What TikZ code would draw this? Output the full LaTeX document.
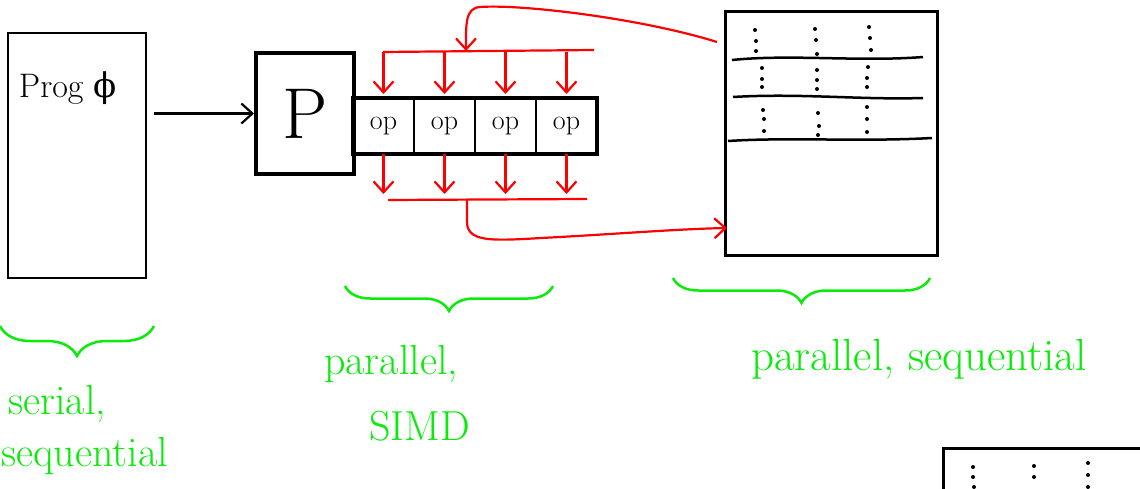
\documentclass[tikz,border=0pt]{standalone}
\usepackage{fontspec}
\newfontfamily\greekfont{DejaVu Serif}
\usetikzlibrary{arrows.meta,positioning,decorations.pathreplacing}
\definecolor{inkred}{RGB}{255,0,0}
\definecolor{inkgreen}{RGB}{10,235,10}

\begin{document}
\begin{tikzpicture}[x=1pt,y=-1pt,line width=2.5pt,
  box/.style={draw,line width=2.5pt,inner sep=0pt},
  opcell/.style={draw,line width=1.8pt,outer sep=0pt,inner sep=0pt,
    minimum width=61pt,minimum height=56pt,font=\fontsize{28}{32}\selectfont},
  sig/.style={->,draw=inkred,line width=2.2pt,>={Straight Barb[length=11pt,width=20pt]}},
  bus/.style={draw=inkred,line width=2.2pt},
  hand/.style={text=inkgreen,inner sep=0pt,font=\fontsize{42}{48}\selectfont},
  grp/.style={draw=inkgreen,line width=2.5pt,decorate,decoration={brace,mirror,amplitude=#1}}]
\useasboundingbox (0,0) rectangle (1140,489);
% ---- serial program ----
\node[box,minimum width=138pt,minimum height=245pt] (prog) at (77,155.5) {};
\node[font=\fontsize{34}{38}\selectfont] (progname) at (68,88) {Prog {\greekfont ϕ}};
% ---- processor and its op strip ----
\node[box,line width=4pt,minimum width=98pt,minimum height=121pt,
  font=\fontsize{72}{72}\selectfont] (proc) at (305,113.5) {P};
\node[opcell,anchor=west] (op1) at (353,126) {op};
\node[opcell,right=0pt of op1] (op2) {op};
\node[opcell,right=0pt of op2] (op3) {op};
\node[opcell,right=0pt of op3] (op4) {op};
\draw[line width=4pt] (op1.north west) rectangle (op4.south east);
\draw[->,line width=2.2pt,>={Straight Barb[length=11pt,width=20pt]},shorten <=7pt]
  (prog.east |- proc.west) -- (proc.west);
% ---- memory ----
\node[box,line width=3pt,minimum width=212pt,minimum height=243pt] (mem) at (831,133.5) {};
\draw (732,60) .. controls (790,54) and (860,62) .. (923,57);
\draw (733,97) .. controls (800,93) and (860,100) .. (923,98);
\draw (728,141) .. controls (790,137) and (860,142) .. (932,138);
\fill (755,30) circle (2pt) (756,41) circle (2pt) (756,51) circle (2pt);
\fill (815,29) circle (2pt) (816,40) circle (2pt) (817,54) circle (2pt);
\fill (869,27) circle (2pt) (870,38) circle (2pt) (871,50) circle (2pt);
\fill (762,68) circle (2pt) (762,79) circle (2pt) (762,87) circle (2pt);
\fill (817,70) circle (2pt) (817,80) circle (2pt) (817,89) circle (2pt);
\fill (868,67) circle (2pt) (867,78) circle (2pt) (867,87) circle (2pt);
\fill (763,110) circle (2pt) (764,119) circle (2pt) (764,131) circle (2pt);
\fill (818,113) circle (2pt) (819,126) circle (2pt) (818,135) circle (2pt);
\fill (867,107) circle (2pt) (867,119) circle (2pt) (867,132) circle (2pt);
% ---- next memory block, cut off ----
\draw[line width=3pt] (943,489) -- (943,448) -- (1140,448);
\fill (973,467) circle (2pt) (973,477) circle (2pt) (974,487) circle (2pt);
\fill (1034,466) circle (2pt) (1034,477) circle (2pt);
\fill (1088,463) circle (2pt) (1088,475) circle (2pt) (1088,487) circle (2pt);
% ---- red: memory to ops ----
\coordinate (tl) at (383,52);
\coordinate (tr) at (594,50);
\coordinate (tm) at (466,51);
\coordinate (fromMem) at (717,42);
\draw[bus] (tl) -- (tr);
\draw[sig] (fromMem) .. controls (640,18) and (520,4) .. (480,7)
  .. controls (465,8) and (466,25) .. (tm);
\draw[sig,shorten >=4pt] (op1.north |- tl) -- (op1.north);
\draw[sig,shorten >=4pt] (op2.north |- tl) -- (op2.north);
\draw[sig,shorten >=4pt] (op3.north |- tl) -- (op3.north);
\draw[sig,shorten >=4pt] (op4.north |- tl) -- (op4.north);
% ---- red: ops back to memory ----
\coordinate (bl) at (388,200);
\coordinate (br) at (587,199);
\coordinate (bm) at (467,200);
\coordinate (toMem) at (727,228);
\draw[bus] (bl) -- (br);
\draw[sig,shorten >=6pt] (op1.south) -- (op1.south |- bl);
\draw[sig,shorten >=6pt] (op2.south) -- (op2.south |- bl);
\draw[sig,shorten >=6pt] (op3.south) -- (op3.south |- bl);
\draw[sig,shorten >=6pt] (op4.south) -- (op4.south |- bl);
\draw[sig] (bm) -- (467,222) .. controls (467,245) and (500,240) .. (560,237)
  .. controls (630,233) and (680,229) .. (toMem);
% ---- green braces and labels ----
\draw[grp=30pt] (0,326) -- (154,326);
\draw[grp=25pt] (345,286) -- (553,286);
\draw[grp=25pt] (673,278) -- (930,278);
\node[hand,anchor=base west] (serial) at (7,414) {serial,};
\node[hand,anchor=base west] (sequential) at (0,466) {sequential};
\node[hand,anchor=base west] (parallel) at (323,374) {parallel,};
\node[hand,anchor=base west] (simd) at (368,440) {SIMD};
\node[hand,anchor=base west,font=\fontsize{45}{50}\selectfont] (parseq) at (750,370) {parallel, sequential};
\end{tikzpicture}
\end{document}
